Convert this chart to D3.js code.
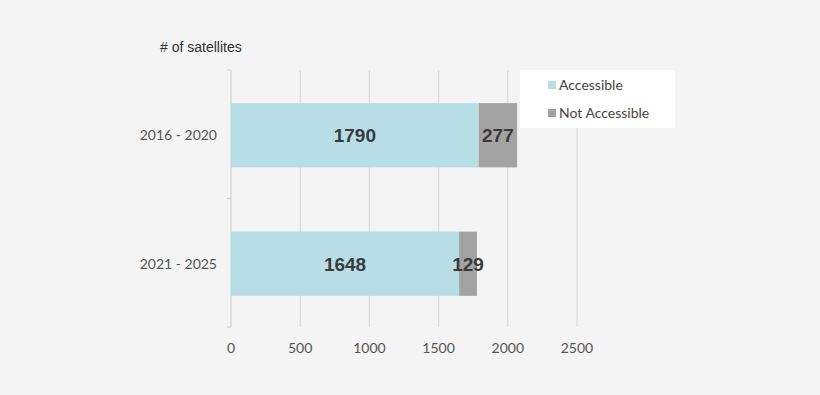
<!DOCTYPE html>
<html>
<head>
<meta charset="utf-8">
<script src="https://cdn.jsdelivr.net/npm/d3@7"></script>
<style>
  body { margin: 0; background: #f4f4f4; }
  svg { display: block; }
</style>
</head>
<body>
<svg id="chart" width="820" height="395"></svg>
<script>
// data
var periods = ["2016 - 2020", "2021 - 2025"];
var accessible = [1790, 1648];
var notAccessible = [277, 129];
var seriesNames = ["Accessible", "Not Accessible"];
var xTicks = [0, 500, 1000, 1500, 2000, 2500];

var svg = d3.select("#chart"),
    margin = {top: 70, left: 231},
    width = 346,
    height = 257,
    g = svg.append("g").attr("transform", "translate(" + margin.left + "," + margin.top + ")");

var colors = d3.scaleOrdinal().domain(seriesNames).range(["#b7dde7", "#a3a3a3"]);

var x = d3.scaleLinear().domain([0, 2500]).range([0, width]);
var y = d3.scaleBand().domain(periods).range([0, height]).paddingInner(0.5).paddingOuter(0.25);

var rows = periods.map(function(p, i) {
  return {period: p, "Accessible": accessible[i], "Not Accessible": notAccessible[i]};
});
var stacked = d3.stack().keys(seriesNames)(rows);

// grid
g.selectAll(".grid")
  .data(xTicks.slice(1))
  .enter().append("line")
    .attr("x1", function(d) { return x(d); })
    .attr("x2", function(d) { return x(d); })
    .attr("y1", 0)
    .attr("y2", height)
    .attr("stroke", "#dadada")
    .attr("stroke-width", 1.2);

// y axis line + small ticks at band edges
g.append("line")
    .attr("x1", 0).attr("x2", 0).attr("y1", 0).attr("y2", height)
    .attr("stroke", "#d2d2d2").attr("stroke-width", 1.2);
g.selectAll(".ytick")
  .data([0, height / 2, height])
  .enter().append("line")
    .attr("x1", -4).attr("x2", 0)
    .attr("y1", function(d) { return d; }).attr("y2", function(d) { return d; })
    .attr("stroke", "#d2d2d2").attr("stroke-width", 1.2);

// bars
var layer = g.selectAll(".layer")
  .data(stacked)
  .enter().append("g")
    .attr("fill", function(d) { return colors(d.key); });

layer.selectAll("rect")
  .data(function(d) { return d; })
  .enter().append("rect")
    .attr("x", function(d) { return x(d[0]); })
    .attr("y", function(d) { return y(d.data.period) + 1; })
    .attr("width", function(d) { return x(d[1]) - x(d[0]); })
    .attr("height", y.bandwidth());

// value labels
layer.selectAll("text")
  .data(function(d) { return d; })
  .enter().append("text")
    .attr("x", function(d) { return (x(d[0]) + x(d[1])) / 2; })
    .attr("y", function(d) { return y(d.data.period) + 1 + y.bandwidth() / 2; })
    .attr("dy", "0.36em")
    .attr("text-anchor", "middle")
    .attr("fill", "#3b3b3b")
    .style("font", "bold 19px 'Liberation Sans', Arial, sans-serif")
    .text(function(d) { return d[1] - d[0]; });

// x tick labels
g.selectAll(".xlab")
  .data(xTicks)
  .enter().append("text")
    .attr("x", function(d) { return x(d); })
    .attr("y", 283)
    .attr("text-anchor", "middle")
    .attr("fill", "#555")
    .style("font", "14px Lato, sans-serif")
    .text(function(d) { return d; });

// category labels
g.selectAll(".ylab")
  .data(periods)
  .enter().append("text")
    .attr("x", -14)
    .attr("y", function(d) { return y(d) + 1 + y.bandwidth() / 2; })
    .attr("dy", "0.35em")
    .attr("text-anchor", "end")
    .attr("fill", "#555")
    .style("font", "14px Lato, sans-serif")
    .text(function(d) { return d; });

// axis title
svg.append("text")
    .attr("x", 160).attr("y", 52)
    .attr("fill", "#333")
    .style("font", "14px 'Liberation Sans', Arial, sans-serif")
    .text("# of satellites");

// legend
var legend = svg.append("g").attr("transform", "translate(520,70)");
legend.append("rect")
    .attr("width", 155).attr("height", 58)
    .attr("fill", "#fff");
var item = legend.selectAll(".item")
  .data(seriesNames)
  .enter().append("g")
    .attr("transform", function(d, i) { return "translate(28," + (15 + i * 28) + ")"; });
item.append("rect")
    .attr("x", 0).attr("y", -4).attr("width", 8).attr("height", 8)
    .attr("fill", function(d) { return colors(d); });
item.append("text")
    .attr("x", 11).attr("dy", "0.35em")
    .attr("fill", "#444")
    .style("font", "14px Lato, sans-serif")
    .text(function(d) { return d; });
</script>
</body>
</html>
